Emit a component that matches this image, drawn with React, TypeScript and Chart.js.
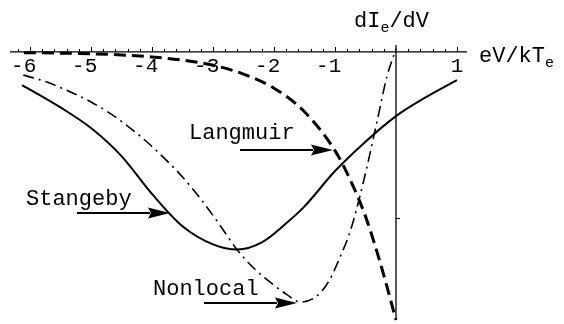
import React, { useEffect, useRef } from "react";
import { Chart, registerables } from "chart.js";

Chart.register(...registerables);

// Probe bias eV/kTe for each curve, and the electron-current derivative dIe/dV (arbitrary units)
const stangebyV = [-6.13, -5.5, -5.0, -4.5, -4.0, -3.5, -3.0, -2.6, -2.2, -1.8, -1.5, -1.0, -0.5, 0.0, 0.5, 1.0];
const stangebyG = [-0.199, -0.334, -0.458, -0.627, -0.855, -1.05, -1.159, -1.19, -1.147, -1.032, -0.93, -0.717, -0.54, -0.386, -0.27, -0.169];

const langmuirV = [-6.1, -5.5, -5.0, -4.5, -4.0, -3.5, -3.0, -2.5, -2.0, -1.5, -1.0, -0.75, -0.5, -0.25, 0.0];
const langmuirG = [-0.004, -0.007, -0.011, -0.018, -0.03, -0.049, -0.08, -0.133, -0.218, -0.36, -0.594, -0.77, -0.99, -1.28, -1.614];

const nonlocalV = [-6.11, -5.75, -5.3, -5.0, -4.7, -4.4, -4.1, -3.8, -3.5, -3.2, -2.9, -2.6, -2.3, -2.0, -1.8, -1.57, -1.3, -1.1, -0.9, -0.75, -0.6, -0.45, -0.3, -0.15, 0.0];
const nonlocalG = [-0.139, -0.178, -0.247, -0.301, -0.367, -0.446, -0.536, -0.639, -0.753, -0.886, -1.036, -1.193, -1.313, -1.404, -1.458, -1.506, -1.47, -1.38, -1.22, -1.08, -0.88, -0.65, -0.4, -0.15, 0.02];

// Axis ticks
const xTickValues = [-6, -5, -4, -3, -2, -1, 1];
const xTickLabels = ["-6", "-5", "-4", "-3", "-2", "-1", "1"];
const yTickValues = [-1];

// Curve names with the point each arrow points at
const noteNames = ["Stangeby", "Langmuir", "Nonlocal"];
const noteTipV = [-3.705, -1.033, -1.623];
const noteTipG = [-0.97, -0.59, -1.512];

const MONO = '"Liberation Mono", "Courier New", monospace';

const toPoints = (xs: number[], ys: number[]) => xs.map((v, i) => ({ x: v, y: ys[i] }));

function drawArrow(ctx: CanvasRenderingContext2D, x1: number, x2: number, y: number) {
  const head = 22;
  const half = 5.5;
  ctx.beginPath();
  ctx.lineWidth = 2;
  ctx.moveTo(x1, y);
  ctx.lineTo(x2 - head + 2, y);
  ctx.stroke();
  ctx.beginPath();
  ctx.moveTo(x2, y);
  ctx.lineTo(x2 - head, y - half);
  ctx.lineTo(x2 - head + 3, y);
  ctx.lineTo(x2 - head, y + half);
  ctx.closePath();
  ctx.fill();
}

function drawSubscripted(ctx: CanvasRenderingContext2D, parts: [string, boolean][], left: number, base: number) {
  let xPos = left;
  for (const [txt, sub] of parts) {
    ctx.font = sub ? `15px ${MONO}` : `22px ${MONO}`;
    ctx.fillText(txt, xPos, sub ? base + 5 : base);
    xPos += ctx.measureText(txt).width;
  }
}

const axesPlugin = {
  id: "crossedAxes",
  beforeDatasetsDraw(chart: any) {
    const { ctx, scales } = chart;
    const xs = scales.x;
    const ys = scales.y;
    const x0 = xs.getPixelForValue(0);
    const y0 = ys.getPixelForValue(0);
    ctx.save();
    ctx.strokeStyle = "#000";
    ctx.fillStyle = "#000";
    ctx.lineWidth = 1.3;
    ctx.beginPath();
    ctx.moveTo(xs.left, y0);
    ctx.lineTo(xs.right, y0);
    ctx.moveTo(x0, ys.top);
    ctx.lineTo(x0, ys.bottom);
    ctx.stroke();

    // tick marks on the horizontal axis, every 0.2
    ctx.lineWidth = 1;
    for (let k = -31; k <= 5; k++) {
      if (k === 0) continue;
      const px = Math.round(xs.getPixelForValue(k * 0.2)) + 0.5;
      const len = k % 5 === 0 ? 5 : 3;
      ctx.beginPath();
      ctx.moveTo(px, y0);
      ctx.lineTo(px, y0 - len);
      ctx.stroke();
    }
    // tick marks on the vertical axis
    for (const t of yTickValues) {
      const py = Math.round(ys.getPixelForValue(t)) + 0.5;
      ctx.beginPath();
      ctx.moveTo(x0, py);
      ctx.lineTo(x0 + 4, py);
      ctx.stroke();
    }

    // tick labels, digit centred on the tick
    ctx.font = `21px ${MONO}`;
    ctx.textBaseline = "alphabetic";
    ctx.textAlign = "right";
    xTickValues.forEach((v, i) => {
      const label = xTickLabels[i];
      const px = xs.getPixelForValue(v);
      const lastW = ctx.measureText(label.slice(-1)).width;
      ctx.fillText(label, px + lastW / 2, y0 + 20);
    });

    // axis titles
    ctx.textAlign = "left";
    drawSubscripted(ctx, [["dI", false], ["e", true], ["/dV", false]], x0 - 42, y0 - 25);
    drawSubscripted(ctx, [["eV/kT", false], ["e", true]], xs.right + 12, y0 + 10);
    ctx.restore();
  },
  afterDatasetsDraw(chart: any) {
    const { ctx, scales } = chart;
    const xs = scales.x;
    const ys = scales.y;
    ctx.save();
    ctx.strokeStyle = "#000";
    ctx.fillStyle = "#000";
    const textDy = [-8, -11, -8];
    noteNames.forEach((name, i) => {
      const tx = xs.getPixelForValue(noteTipV[i]);
      const ty = ys.getPixelForValue(noteTipG[i]);
      drawArrow(ctx, tx - 93, tx, ty);
      ctx.font = `22px ${MONO}`;
      ctx.textAlign = "left";
      ctx.fillText(name, tx - 144, ty + textDy[i]);
    });
    ctx.restore();
  },
};

export default function App() {
  const canvasRef = useRef<HTMLCanvasElement | null>(null);

  useEffect(() => {
    const canvas = canvasRef.current;
    if (!canvas) return;
    const chart = new Chart(canvas, {
      type: "line",
      data: {
        datasets: [
          {
            label: "Stangeby",
            data: toPoints(stangebyV, stangebyG),
            borderColor: "#000",
            borderWidth: 2,
            pointRadius: 0,
            cubicInterpolationMode: "monotone",
            fill: false,
          },
          {
            label: "Langmuir",
            data: toPoints(langmuirV, langmuirG),
            borderColor: "#000",
            borderWidth: 3,
            borderDash: [12, 6],
            pointRadius: 0,
            cubicInterpolationMode: "monotone",
            fill: false,
          },
          {
            label: "Nonlocal",
            data: toPoints(nonlocalV, nonlocalG),
            borderColor: "#000",
            borderWidth: 1.6,
            borderDash: [11, 5, 2, 5],
            pointRadius: 0,
            cubicInterpolationMode: "monotone",
            fill: false,
          },
        ],
      },
      options: {
        responsive: false,
        animation: false,
        devicePixelRatio: 1,
        layout: { padding: { left: 10, right: 97, top: 45, bottom: 4 } },
        plugins: { legend: { display: false }, tooltip: { enabled: false } },
        events: [],
        scales: {
          x: { type: "linear", min: -6.328, max: 1.164, display: false },
          y: { type: "linear", min: -1.614, max: 0.042, display: false },
        },
        clip: false as any,
      },
      plugins: [axesPlugin],
    });
    return () => chart.destroy();
  }, []);

  return (
    <div style={{ position: "fixed", left: 0, top: 0, width: 564, height: 324, background: "#fff" }}>
      <canvas ref={canvasRef} width={564} height={324} style={{ width: 564, height: 324, display: "block" }} />
    </div>
  );
}
